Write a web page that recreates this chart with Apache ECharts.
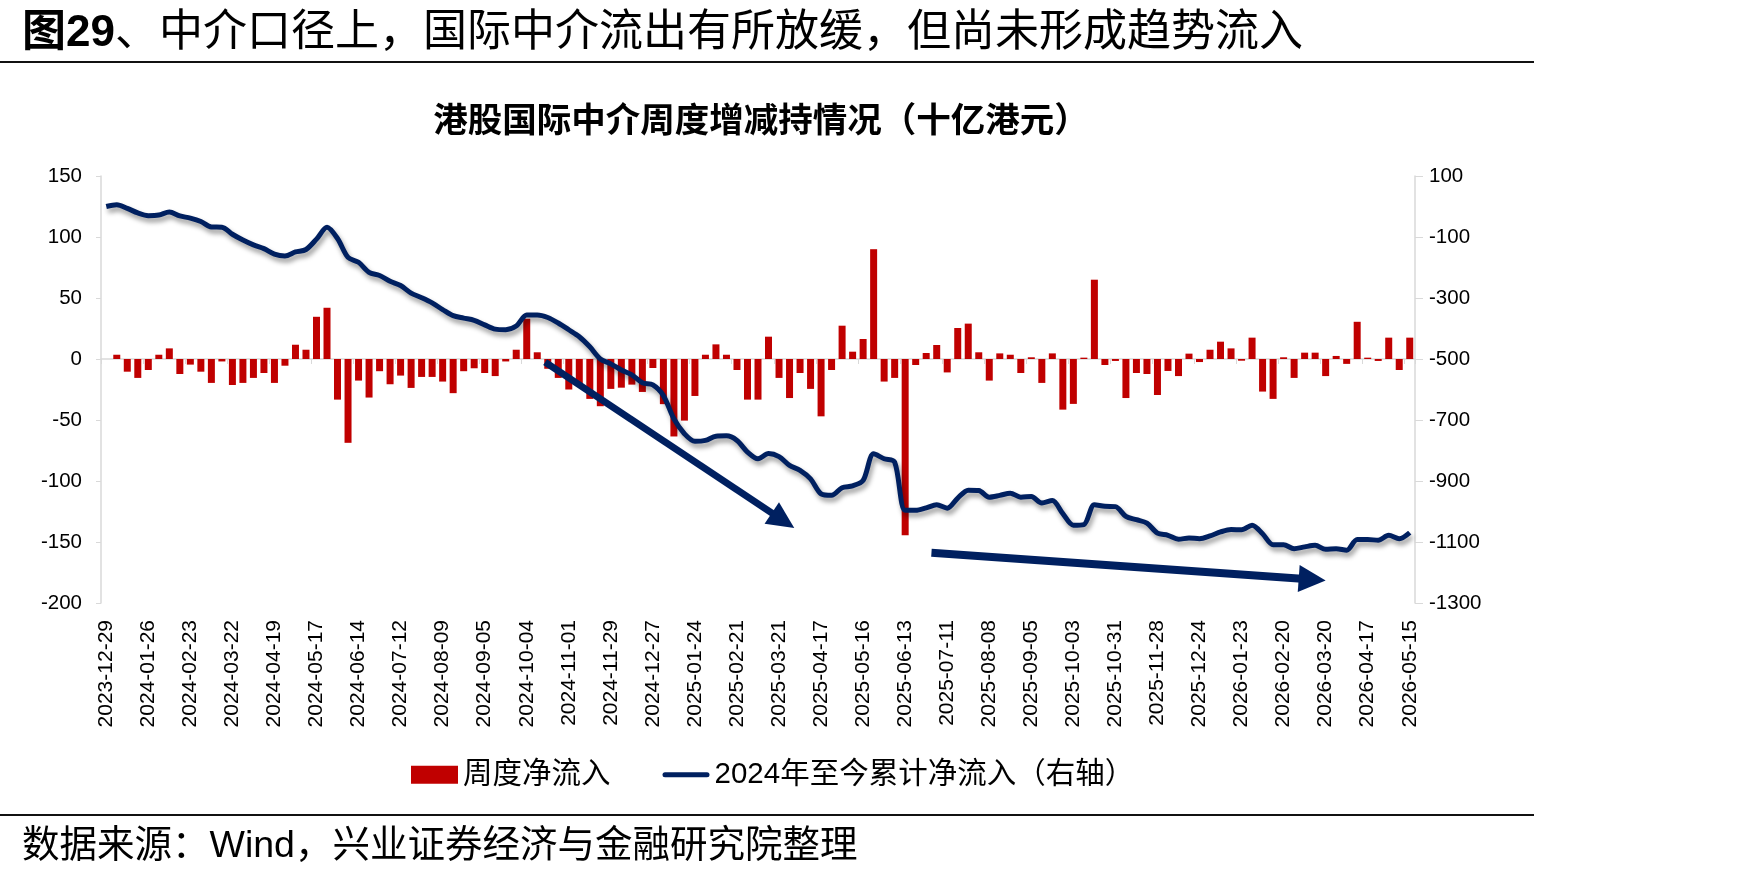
<!DOCTYPE html>
<html><head><meta charset="utf-8">
<script src="https://cdn.jsdelivr.net/npm/echarts@6/dist/echarts.min.js"></script>
<style>html,body{margin:0;padding:0;background:#fff}#c{width:1748px;height:875px}</style>
</head><body><div id="c"></div>
<script>
// ---------- data ----------
const dates = [
'2023-12-29','2024-01-05','2024-01-12','2024-01-19','2024-01-26','2024-02-02','2024-02-09','2024-02-16','2024-02-23','2024-03-01',
'2024-03-08','2024-03-15','2024-03-22','2024-03-29','2024-04-05','2024-04-12','2024-04-19','2024-04-26','2024-05-03','2024-05-10',
'2024-05-17','2024-05-24','2024-05-31','2024-06-07','2024-06-14','2024-06-21','2024-06-28','2024-07-05','2024-07-12','2024-07-19',
'2024-07-26','2024-08-02','2024-08-09','2024-08-16','2024-08-23','2024-08-30','2024-09-05','2024-09-13','2024-09-20','2024-09-27',
'2024-10-04','2024-10-11','2024-10-18','2024-10-25','2024-11-01','2024-11-08','2024-11-15','2024-11-22','2024-11-29','2024-12-06',
'2024-12-13','2024-12-20','2024-12-27','2025-01-03','2025-01-10','2025-01-17','2025-01-24','2025-01-31','2025-02-07','2025-02-14',
'2025-02-21','2025-02-28','2025-03-07','2025-03-14','2025-03-21','2025-03-28','2025-04-04','2025-04-11','2025-04-17','2025-04-25',
'2025-05-02','2025-05-09','2025-05-16','2025-05-23','2025-05-30','2025-06-06','2025-06-13','2025-06-20','2025-06-27','2025-07-04',
'2025-07-11','2025-07-18','2025-07-25','2025-08-01','2025-08-08','2025-08-15','2025-08-22','2025-08-29','2025-09-05','2025-09-12',
'2025-09-19','2025-09-26','2025-10-03','2025-10-10','2025-10-17','2025-10-24','2025-10-31','2025-11-07','2025-11-14','2025-11-21',
'2025-11-28','2025-12-05','2025-12-12','2025-12-19','2025-12-24','2026-01-02','2026-01-09','2026-01-16','2026-01-23','2026-01-30',
'2026-02-06','2026-02-13','2026-02-20','2026-02-27','2026-03-06','2026-03-13','2026-03-20','2026-03-27','2026-04-03','2026-04-10',
'2026-04-17','2026-04-24','2026-05-01','2026-05-08','2026-05-15'
];

// 周度净流入 (十亿港元, left axis)
const weeklyFlow = [
0,3.5,-10.4,-15.5,-9,3.5,8.7,-12.3,-4.6,-10.4,
-19.6,-2,-21.3,-19.6,-15.5,-11.5,-19.6,-5.5,11.7,7.6,
34.6,42,-33.3,-68.7,-17.7,-31.6,-10,-20.7,-13.6,-23.7,
-14.7,-14.7,-18.5,-28,-10,-7.6,-11.5,-14,-2,7.6,
33,5.5,-8,-15.5,-25,-22,-32.7,-38.7,-24.5,-23.5,
-21,-27,-7.4,-37,-63.5,-50.5,-30.3,3.5,12,3.5,
-9,-33.3,-33.3,18.3,-15.5,-32,-11.5,-24.5,-47,-9,
27.3,6,16.4,90,-18.5,-15.5,-144.5,-4.9,4.9,11.5,
-11,25.4,29,5.5,-17.7,4.6,3.5,-11.5,1.4,-19.6,
4.6,-41.5,-36.8,1.1,65,-4.9,-1.6,-32,-11.5,-12.3,
-29.5,-9.8,-14,4.4,-2.5,7.6,14.2,8.7,-1.4,17.5,
-26.7,-32.7,1.4,-15.5,5.2,5.2,-14,2.5,-4,30.5,
1.1,-1.6,17.5,-9,17.5
];

// 2024年至今累计净流入 (right axis)
const cumulativeFlow = [
0,6,-6,-21,-30,-28,-18,-31,-38,-49,
-67,-68,-91,-110,-126,-138,-156,-162,-149,-141,
-107,-68,-105,-167,-183,-216,-226,-245,-259,-284,
-299,-316,-338,-358,-366,-373,-388,-402,-404,-392,
-356,-356,-364,-382,-404,-427,-460,-500,-516,-536,
-552,-578,-585,-620,-696,-745,-770,-767,-753,-752,
-767,-805,-827,-810,-820,-849,-865,-893,-942,-947,
-922,-916,-898,-811,-827,-838,-996,-996,-988,-978,
-989,-956,-930,-931,-953,-947,-940,-953,-951,-972,
-964,-1007,-1045,-1043,-978,-983,-984,-1016,-1027,-1038,
-1071,-1078,-1091,-1087,-1089,-1080,-1067,-1059,-1060,-1045,
-1073,-1109,-1109,-1122,-1116,-1111,-1124,-1122,-1127,-1092,
-1092,-1094,-1078,-1089,-1069
];

const leftTicks = [-200,-150,-100,-50,0,50,100,150];
const rightTicks = [-1300,-1100,-900,-700,-500,-300,-100,100];

const seriesNames = ['周度净流入','2024年至今累计净流入（右轴）'];
const mainTitle = ['图29','、中介口径上，国际中介流出有所放缓，但尚未形成趋势流入'];
const chartTitle = '港股国际中介周度增减持情况（十亿港元）';
const sourceNote = '数据来源：Wind，兴业证券经济与金融研究院整理';

// ---------- annotation arrows (category index, left-axis value) ----------
const trendArrows = [
  {from:[41.75,-2.5], to:[65.45,-138.5], width:7, head:27, half:13},
  {from:[78.5,-158.8], to:[116.0,-181.5], width:8, head:27, half:13.5}
];

// ---------- styles ----------
const FONT = '"Liberation Sans", Arial, "Noto Sans CJK SC", sans-serif';
const RED = '#C00000';
const NAVY = '#002060';
const AXIS_GREY = '#d9d9d9';
// thick line legend icon (47x18 box, 5px bar in the middle)
const LINE_ICON = 'path://M0,0 M0,18 M2.5,6.5 L44.5,6.5 A2.5,2.5 0 0 1 44.5,11.5 L2.5,11.5 A2.5,2.5 0 0 1 2.5,6.5 Z M47,18';

const chart = echarts.init(document.getElementById('c'), null, {renderer:'canvas'});
const plainNum = v => String(v);

const option = {
  animation:false,
  backgroundColor:'#fff',
  grid:{left:101, right:333, top:176, bottom:272, containLabel:false},
  legend:{
    left:406, top:755, itemWidth:47, itemHeight:18, itemGap:52,
    textStyle:{fontSize:29.5, color:'#000', fontFamily:FONT},
    data:[{name:seriesNames[0], icon:'rect'}, {name:seriesNames[1], icon:LINE_ICON}]
  },
  xAxis:[
    {type:'category', data:dates, position:'bottom',
     axisLine:{show:false, onZero:false}, axisTick:{show:false},
     axisLabel:{interval:3, rotate:90, fontSize:21, color:'#000', margin:17, fontFamily:FONT},
     splitLine:{show:false}},
    {type:'category', data:dates, position:'bottom',
     axisLine:{show:true, onZero:true, onZeroAxisIndex:0, lineStyle:{color:AXIS_GREY, width:1.5}},
     axisTick:{show:true, interval:3, length:5, lineStyle:{color:AXIS_GREY}},
     axisLabel:{show:false}, splitLine:{show:false}}
  ],
  yAxis:[
    {type:'value', position:'left', min:leftTicks[0], max:leftTicks[leftTicks.length-1], interval:leftTicks[1]-leftTicks[0],
     axisLine:{show:true, lineStyle:{color:AXIS_GREY, width:1.5}},
     axisTick:{show:true, length:5, lineStyle:{color:AXIS_GREY}},
     splitLine:{show:false},
     axisLabel:{fontSize:20.5, color:'#000', margin:19, fontFamily:FONT, formatter:plainNum}},
    {type:'value', position:'right', min:rightTicks[0], max:rightTicks[rightTicks.length-1], interval:rightTicks[1]-rightTicks[0],
     axisLine:{show:true, lineStyle:{color:AXIS_GREY, width:1.5}},
     axisTick:{show:true, length:8, lineStyle:{color:AXIS_GREY}},
     splitLine:{show:false},
     axisLabel:{fontSize:20.5, color:'#000', margin:14, fontFamily:FONT, formatter:plainNum}}
  ],
  series:[
    {name:seriesNames[0], type:'bar', xAxisIndex:0, yAxisIndex:0, data:weeklyFlow,
     barWidth:7, itemStyle:{color:RED}, z:2},
    {name:seriesNames[1], type:'line', xAxisIndex:0, yAxisIndex:1, data:cumulativeFlow,
     symbol:'none', smooth:0.3, z:3,
     itemStyle:{color:NAVY},
     lineStyle:{color:NAVY, width:5, shadowColor:'rgba(0,0,0,0.4)', shadowBlur:5, shadowOffsetX:2, shadowOffsetY:4}}
  ]
};
chart.setOption(option);

function px(i, v){
  const i0 = Math.floor(i), f = i - i0;
  const x0 = chart.convertToPixel({xAxisIndex:0}, i0);
  const x1 = chart.convertToPixel({xAxisIndex:0}, i0 + 1);
  const y = chart.convertToPixel({yAxisIndex:0}, v);
  return [x0 + f * (x1 - x0), y];
}
function arrowEls(a){
  const S = px(a.from[0], a.from[1]), T = px(a.to[0], a.to[1]);
  const dx = T[0]-S[0], dy = T[1]-S[1], len = Math.hypot(dx, dy);
  const ux = dx/len, uy = dy/len, nx = -uy, ny = ux;
  const B = [T[0]-ux*a.head, T[1]-uy*a.head];
  return [
    {type:'line', z:100, shape:{x1:S[0], y1:S[1], x2:B[0]+ux*3, y2:B[1]+uy*3},
     style:{stroke:NAVY, lineWidth:a.width, lineCap:'butt'}},
    {type:'polygon', z:100, shape:{points:[T, [B[0]+nx*a.half, B[1]+ny*a.half], [B[0]-nx*a.half, B[1]-ny*a.half]]},
     style:{fill:NAVY}}
  ];
}

const graphics = [
  {type:'text', z:100, style:{x:22, y:34, verticalAlign:'middle',
    text:'{a|' + mainTitle[0] + '}{b|' + mainTitle[1] + '}',
    rich:{a:{fontSize:44, fontWeight:'bold', fontFamily:FONT, fill:'#000'},
          b:{fontSize:44, fontFamily:FONT, fill:'#000'}}}},
  {type:'rect', z:100, shape:{x:0, y:61, width:1534, height:2}, style:{fill:'#111'}},
  {type:'text', z:100, style:{x:761, y:122, align:'center', verticalAlign:'middle',
    text:chartTitle, fontSize:34.5, fontWeight:'bold', fontFamily:FONT, fill:'#000'}},
  {type:'rect', z:100, shape:{x:0, y:814, width:1534, height:2}, style:{fill:'#111'}},
  {type:'text', z:100, style:{x:22, y:847, verticalAlign:'middle',
    text:sourceNote, fontSize:37.5, fontFamily:FONT, fill:'#000'}}
];
trendArrows.forEach(a => graphics.push(...arrowEls(a)));
chart.setOption({graphic:graphics});
</script>
</body></html>
